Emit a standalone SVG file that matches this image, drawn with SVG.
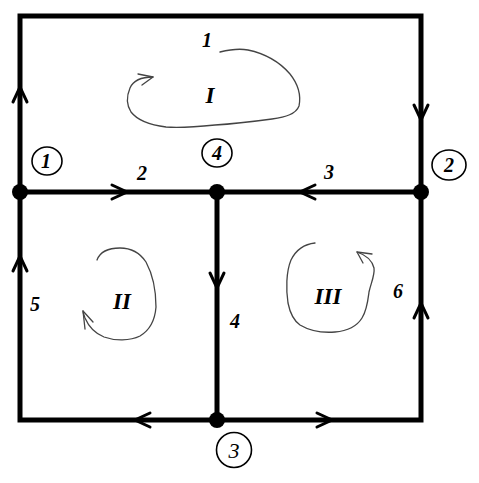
<svg xmlns="http://www.w3.org/2000/svg" width="479" height="483" viewBox="0 0 479 483">
<style>
.edge{fill:none;stroke:#000;stroke-width:5;stroke-linecap:square;stroke-linejoin:miter}
.ah{fill:none;stroke:none}
.dot{fill:#000}
.ring{fill:#fff;stroke:#000;stroke-width:1.6}
.lbl{font-family:"Liberation Serif","Times New Roman",serif;font-style:italic;font-weight:bold;font-size:20px;fill:#000;text-anchor:middle}
.reg{font-size:23px}
.thin{font-weight:normal}
.loop{fill:none;stroke:#444;stroke-width:1.3;stroke-linejoin:round;stroke-linecap:round}
</style>
<defs>
<marker id="arr" markerUnits="userSpaceOnUse" markerWidth="40" markerHeight="40" refX="0" refY="0" viewBox="-20 -20 40 40" orient="auto" overflow="visible">
<path d="M-15,-7 L0,0 L-15,7" fill="none" stroke="#000" stroke-width="3" stroke-linecap="round" stroke-linejoin="miter"/>
</marker>
</defs>
<rect width="479" height="483" fill="#fff"/>
<g id="connectors">
<path class="edge" d="M20 192 L20 16 L421 16 L421 192"/>
<path class="edge" d="M20 192 L217 192"/>
<path class="edge" d="M421 192 L217 192"/>
<path class="edge" d="M217 192 L217 420"/>
<path class="edge" d="M217 420 L20 420 L20 192"/>
<path class="edge" d="M217 420 L421 420 L421 192"/>
<path class="ah" d="M20 97 L20 87" marker-end="url(#arr)"/>
<path class="ah" d="M421 110 L421 120" marker-end="url(#arr)"/>
<path class="ah" d="M117 192 L127 192" marker-end="url(#arr)"/>
<path class="ah" d="M310 192 L300 192" marker-end="url(#arr)"/>
<path class="ah" d="M217 278 L217 288" marker-end="url(#arr)"/>
<path class="ah" d="M20 266 L20 256" marker-end="url(#arr)"/>
<path class="ah" d="M145 420 L135 420" marker-end="url(#arr)"/>
<path class="ah" d="M322 420 L332 420" marker-end="url(#arr)"/>
<path class="ah" d="M421 313 L421 303" marker-end="url(#arr)"/>
</g>
<g id="edge-labels" class="lbl">
<text x="207" y="47">1</text>
<text x="142" y="180">2</text>
<text x="329" y="179">3</text>
<text x="235" y="328">4</text>
<text x="35" y="311">5</text>
<text x="398" y="298">6</text>
</g>
<g id="loops">
<path class="loop" d="M220 52 C228 50 238 48 248 50 C262 53 278 60 290 74 C298 84 301 96 299 106 C296 114 286 117 272 119 C250 122 232 124 215 125 C195 127 180 128 166 127 C150 125 138 121 131 112 C126 104 127 95 130 88 C133 81 140 77 153 77"/>
<path class="loop" d="M138 74 L153 77 L142 85"/>
<path class="loop" d="M97 260 C100 252 108 248 120 248 C132 248 140 253 146 262 C153 275 156 292 156 307 C155 320 150 330 140 336 C130 341 115 341 104 337 C94 333 88 325 85 318 C84 315 83 313 83 311"/>
<path class="loop" d="M83 311 L93 322 M83 311 L85 329"/>
<path class="loop" d="M315 243 C305 244 296 250 291 260 C286 272 286 290 288 303 C290 313 293 320 300 325 C310 331 322 333 335 332 C348 331 357 326 362 318 C367 310 368 300 369 292 C371 283 375 275 374 268 C372 260 366 255 357 252"/>
<path class="loop" d="M357 252 L372 254 M357 252 L363 263"/>
</g>
<g id="region-labels" class="lbl reg">
<text x="210" y="103">I</text>
<text x="122" y="309">II</text>
<text x="328" y="304">III</text>
</g>
<g id="node1">
<circle class="dot" cx="20" cy="192" r="8"/>
<ellipse class="ring" cx="47" cy="161" rx="15" ry="14"/>
<text class="lbl" x="46" y="168" style="font-size:20px">1</text>
</g>
<g id="node4">
<circle class="dot" cx="217" cy="192" r="8"/>
<ellipse class="ring" cx="217" cy="153" rx="15" ry="14"/>
<text class="lbl" x="217" y="160" style="font-size:20px">4</text>
</g>
<g id="node2">
<circle class="dot" cx="421" cy="192" r="8"/>
<ellipse class="ring" cx="449" cy="165" rx="17" ry="15"/>
<text class="lbl" x="449" y="172" style="font-size:20px">2</text>
</g>
<g id="node3">
<circle class="dot" cx="217" cy="420" r="8"/>
<circle class="ring" cx="234" cy="450" r="17.5"/>
<text class="lbl thin" x="234" y="458" style="font-size:22px">3</text>
</g>
</svg>
